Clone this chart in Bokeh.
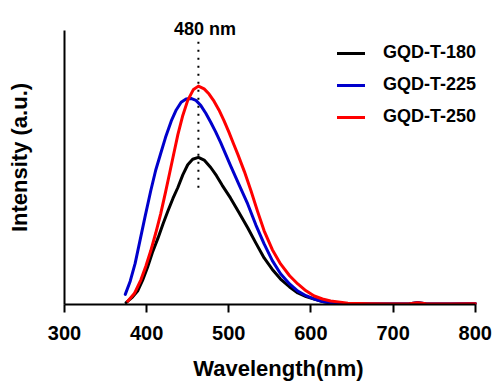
from bokeh.plotting import figure
from bokeh.models import Range1d, FixedTicker, Label, Legend, LegendItem
from bokeh.embed import file_html
from bokeh.resources import INLINE

# ---- data ----
wl_180 = [375, 382, 389, 395, 401, 407, 414, 420, 426, 432, 438, 444, 450, 456, 463,
          470, 478, 485, 492, 502, 512, 523, 533, 543, 553, 563, 574, 584, 594, 604,
          614, 624, 645, 670, 700, 720, 730, 740, 770, 800]
int_180 = [0.007, 0.025, 0.049, 0.088, 0.135, 0.190, 0.244, 0.295, 0.342, 0.387, 0.427,
           0.473, 0.510, 0.530, 0.537, 0.527, 0.500, 0.470, 0.435, 0.389, 0.338, 0.280,
           0.224, 0.170, 0.128, 0.093, 0.064, 0.042, 0.029, 0.020, 0.011, 0.005, 0.003,
           0.002, 0.002, 0.003, 0.006, 0.003, 0.002, 0.003]

wl_225 = [374, 380, 386, 392, 398, 405, 411, 417, 423, 430, 436, 442, 448, 454, 460,
          466, 472, 478, 484, 490, 496, 502, 512, 523, 533, 543, 553, 563, 574, 584,
          594, 604, 614, 624, 645, 670, 700, 720, 730, 740, 770, 800]
int_225 = [0.037, 0.085, 0.150, 0.235, 0.320, 0.415, 0.490, 0.550, 0.610, 0.670, 0.710,
           0.738, 0.750, 0.752, 0.745, 0.726, 0.698, 0.665, 0.630, 0.592, 0.550, 0.508,
           0.440, 0.367, 0.290, 0.221, 0.160, 0.112, 0.075, 0.049, 0.032, 0.020, 0.011,
           0.006, 0.003, 0.002, 0.002, 0.003, 0.006, 0.003, 0.002, 0.003]

wl_250 = [377, 385, 393, 399, 405, 411, 417, 423, 428, 433, 438, 444, 450, 457, 463,
          470, 476, 482, 488, 494, 500, 506, 511, 519, 527, 535, 543, 553, 563, 574,
          584, 594, 604, 614, 624, 645, 670, 700, 720, 730, 740, 770, 800]
int_250 = [0.012, 0.040, 0.090, 0.140, 0.196, 0.260, 0.330, 0.410, 0.480, 0.550, 0.620,
           0.690, 0.745, 0.785, 0.797, 0.787, 0.768, 0.742, 0.710, 0.672, 0.630, 0.585,
           0.548, 0.485, 0.415, 0.340, 0.269, 0.200, 0.148, 0.105, 0.075, 0.050, 0.031,
           0.020, 0.013, 0.005, 0.003, 0.002, 0.003, 0.006, 0.003, 0.002, 0.003]

series_names = ["GQD-T-180", "GQD-T-225", "GQD-T-250"]
series_colors = ["#000000", "#0000CC", "#FF0000"]

x_ticks = [300, 400, 500, 600, 700, 800]
marker_wl = 463
marker_y = [0.426, 0.971]
marker_text = "480 nm"

FONT = "Liberation Sans"

p = figure(width=493, height=383, x_range=Range1d(300, 821), y_range=Range1d(0, 1.073),
           output_backend="svg", toolbar_location=None,
           min_border_left=64, min_border_right=1, min_border_top=10, min_border_bottom=79)
p.outline_line_color = None
p.xgrid.visible = False
p.ygrid.visible = False
p.background_fill_color = "white"

renderers = []
for wl, it, c in zip([wl_180, wl_225, wl_250], [int_180, int_225, int_250], series_colors):
    r = p.line(wl, it, line_color=c, line_width=3, line_join="round", line_cap="round")
    renderers.append(r)

p.segment(x0=[marker_wl], y0=[marker_y[0]], x1=[marker_wl], y1=[marker_y[1]],
          line_color="black", line_width=2, line_dash="2 6")

lab = Label(x=marker_wl + 8, y=1.007, text=marker_text, text_align="center",
            text_baseline="alphabetic", text_font=FONT, text_font_style="bold",
            text_font_size="18px", text_color="black")
p.add_layout(lab)

legend = Legend(items=[LegendItem(label=n, renderers=[r]) for n, r in zip(series_names, renderers)],
                location=(273, 177), padding=0, margin=0, spacing=11,
                glyph_width=28, glyph_height=20, label_height=20, label_standoff=18,
                label_text_font=FONT, label_text_font_style="bold", label_text_font_size="18px",
                label_text_color="black",
                border_line_color=None, background_fill_alpha=0)
p.add_layout(legend)

xa = p.xaxis[0]
xa.bounds = (300, 800)
xa.ticker = FixedTicker(ticks=x_ticks)
xa.minor_tick_line_color = None
xa.major_tick_out = 8
xa.major_tick_in = 0
xa.major_tick_line_width = 2
xa.major_tick_line_color = "black"
xa.axis_line_width = 2
xa.axis_line_color = "black"
xa.major_label_text_font = FONT
xa.major_label_text_font_style = "bold"
xa.major_label_text_font_size = "20px"
xa.major_label_text_color = "black"
xa.major_label_standoff = 13
xa.axis_label = "Wavelength(nm)"
xa.axis_label_text_font = FONT
xa.axis_label_text_font_style = "bold"
xa.axis_label_text_font_size = "22px"
xa.axis_label_text_color = "black"
xa.axis_label_standoff = 13

ya = p.yaxis[0]
ya.bounds = (0, 1)
ya.ticker = FixedTicker(ticks=[])
ya.minor_tick_line_color = None
ya.major_tick_line_color = None
ya.axis_line_width = 2
ya.axis_line_color = "black"
ya.axis_label = "Intensity (a.u.)"
ya.axis_label_text_font = FONT
ya.axis_label_text_font_style = "bold"
ya.axis_label_text_font_size = "22px"
ya.axis_label_text_color = "black"
ya.axis_label_standoff = 33

open("out.html", "w").write(file_html(p, INLINE))
